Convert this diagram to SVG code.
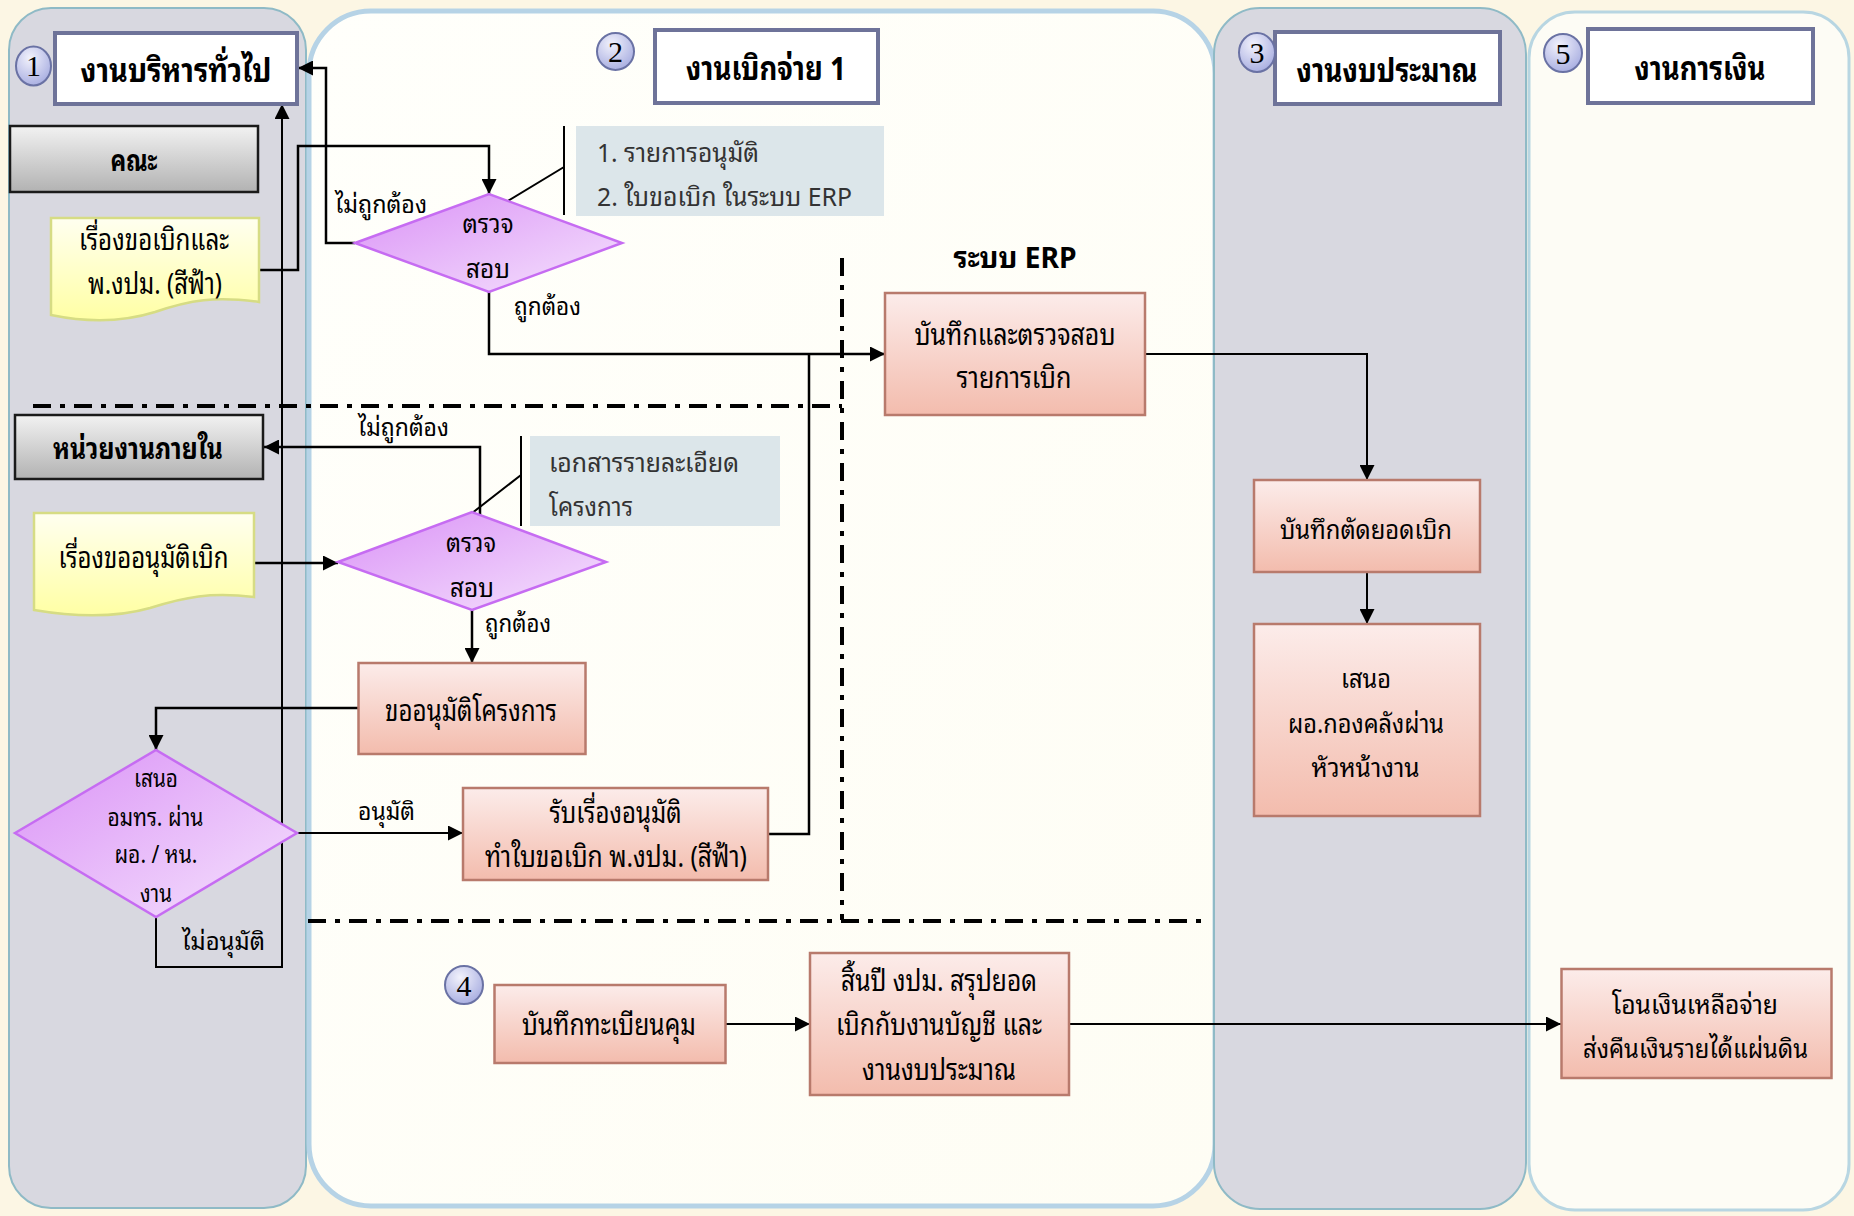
<svg xmlns="http://www.w3.org/2000/svg" width="1854" height="1216" viewBox="0 0 1854 1216">
  <defs>
    <style>
      .t { font-family: "Noto Sans Thai Looped", "Noto Sans Thai", "Noto Sans", "DejaVu Sans", sans-serif; fill: #000; }
      .hd { font-size: 33px; font-weight: bold; text-anchor: middle; }
      .nd { font-size: 29px; text-anchor: middle; }
      .sm { font-size: 25px; text-anchor: middle; }
      .lb { font-size: 25px; }
      .nt { font-size: 26px; fill: #333; }
      .num { font-family: "Liberation Serif", "Times New Roman", serif; font-size: 30px; text-anchor: middle; fill: #000; }
      .lane-gray { fill: #d8d8e0; stroke: #8fbac6; stroke-width: 2; }
      .hdr { fill: #fff; stroke: #6e7399; stroke-width: 4; }
      .badge { fill: url(#gNum); stroke: #6a72a4; stroke-width: 2; }
      .gbox { fill: url(#gGray); stroke: #1a1a1a; stroke-width: 2.5; }
      .doc { fill: url(#gYel); stroke: #d6dc84; stroke-width: 2.5; }
      .dia { fill: url(#gPur); stroke: #c66cf2; stroke-width: 2.5; }
      .pbox { fill: url(#gPink); stroke: #b87a6c; stroke-width: 2.5; }
      .note { fill: #dce6ea; }
      .sep { fill: none; stroke: #000; stroke-width: 4; stroke-dasharray: 18 9 5 9; }
      .cn { fill: none; stroke: #000; stroke-width: 2.5; }
      .cn2 { fill: none; stroke: #000; stroke-width: 2; }
      .co { fill: none; stroke: #000; stroke-width: 2; }
    </style>
    <linearGradient id="gGray" x1="0" y1="0" x2="0" y2="1">
      <stop offset="0" stop-color="#f2f2f2"/>
      <stop offset="1" stop-color="#b2b2b2"/>
    </linearGradient>
    <linearGradient id="gYel" x1="0" y1="0" x2="0" y2="1">
      <stop offset="0" stop-color="#fffff0"/>
      <stop offset="1" stop-color="#ffffa4"/>
    </linearGradient>
    <linearGradient id="gPur" x1="0" y1="0" x2="1" y2="1">
      <stop offset="0" stop-color="#da92f6"/>
      <stop offset="1" stop-color="#f5e2fd"/>
    </linearGradient>
    <linearGradient id="gPink" x1="0" y1="0" x2="0" y2="1">
      <stop offset="0" stop-color="#fcecea"/>
      <stop offset="1" stop-color="#f3bcad"/>
    </linearGradient>
    <linearGradient id="gLane2" x1="0" y1="0" x2="1" y2="1">
      <stop offset="0" stop-color="#fffffb"/>
      <stop offset="1" stop-color="#fefdf4"/>
    </linearGradient>
    <radialGradient id="gNum" cx="0.4" cy="0.3" r="0.75">
      <stop offset="0" stop-color="#f2f2fc"/>
      <stop offset="1" stop-color="#a6ace0"/>
    </radialGradient>
    <marker id="ah" viewBox="0 0 10 10" refX="10" refY="5" markerWidth="15" markerHeight="15" markerUnits="userSpaceOnUse" orient="auto">
      <path d="M0,0 L10,5 L0,10 z" fill="#000"/>
    </marker>
  </defs>

  <!-- page background -->
  <rect x="0" y="0" width="1854" height="1216" fill="#fcf6e4"/>

  <!-- swimlanes -->
  <g id="lanes">
    <rect id="lane-1" class="lane-gray" x="9" y="8" width="297" height="1200" rx="42"/>
    <rect id="lane-2" x="309" y="11" width="906" height="1195" rx="62" fill="url(#gLane2)" stroke="#b6d3e6" stroke-width="5"/>
    <rect id="lane-3" class="lane-gray" x="1214" y="8" width="312" height="1201" rx="46"/>
    <rect id="lane-5" x="1529" y="12" width="320" height="1198" rx="46" fill="#fdfcf5" stroke="#b8d6e2" stroke-width="3"/>
  </g>

  <!-- section separators -->
  <g id="separators">
    <path class="sep" d="M33,406 H842"/>
    <path class="sep" d="M842,258 V920"/>
    <path class="sep" d="M308,921 H1205"/>
  </g>

  <!-- connectors -->
  <g id="connectors">
    <path class="cn" d="M259,270 H298 V146 H489 V194" marker-end="url(#ah)"/>
    <path class="cn" d="M355,243 H326 V68 H298" marker-end="url(#ah)"/>
    <path class="cn" d="M489,292 V354 H885" marker-end="url(#ah)"/>
    <path class="cn" d="M768,834 H809 V354"/>
    <path class="cn2" d="M1145,354 H1367 V480" marker-end="url(#ah)"/>
    <path class="cn2" d="M1367,572 V624" marker-end="url(#ah)"/>
    <path class="cn" d="M254,563 H338" marker-end="url(#ah)"/>
    <path class="cn" d="M480,515 V447 H264" marker-end="url(#ah)"/>
    <path class="cn" d="M472,610 V663" marker-end="url(#ah)"/>
    <path class="cn" d="M358,708 H156 V750" marker-end="url(#ah)"/>
    <path class="cn2" d="M297,833 H463" marker-end="url(#ah)"/>
    <path class="cn2" d="M156,917 V967 H282 V104" marker-end="url(#ah)"/>
    <path class="cn2" d="M725,1024 H810" marker-end="url(#ah)"/>
    <path class="cn2" d="M1069,1024 H1561" marker-end="url(#ah)"/>
    <!-- callout leaders -->
    <path class="co" d="M564,126 V215 M564,167 L498,207"/>
    <path class="co" d="M521,436 V526 M521,475 L467,517"/>
    <!-- connector labels -->
    <text class="t lb" x="335" y="213" textLength="92" lengthAdjust="spacingAndGlyphs">ไม่ถูกต้อง</text>
    <text class="t lb" x="514" y="315" textLength="67" lengthAdjust="spacingAndGlyphs">ถูกต้อง</text>
    <text class="t lb" x="358" y="436" textLength="91" lengthAdjust="spacingAndGlyphs">ไม่ถูกต้อง</text>
    <text class="t lb" x="485" y="632" textLength="66" lengthAdjust="spacingAndGlyphs">ถูกต้อง</text>
    <text class="t lb" x="358" y="820" textLength="57" lengthAdjust="spacingAndGlyphs">อนุมัติ</text>
    <text class="t lb" x="182" y="950" textLength="83" lengthAdjust="spacingAndGlyphs">ไม่อนุมัติ</text>
  </g>

  <!-- lane headers -->
  <g id="header-1">
    <rect class="hdr" x="55" y="33" width="242" height="71"/>
    <text class="t hd" x="176" y="82" textLength="191" lengthAdjust="spacingAndGlyphs">งานบริหารทั่วไป</text>
    <ellipse class="badge" cx="33.5" cy="66" rx="17.5" ry="19.5"/>
    <text class="num" x="33.5" y="76">1</text>
  </g>
  <g id="header-2">
    <rect class="hdr" x="655" y="30" width="223" height="73"/>
    <text class="t hd" x="766" y="80" textLength="160" lengthAdjust="spacingAndGlyphs">งานเบิกจ่าย 1</text>
    <ellipse class="badge" cx="615.5" cy="51.5" rx="18.5" ry="18.5"/>
    <text class="num" x="615.5" y="62">2</text>
  </g>
  <g id="header-3">
    <rect class="hdr" x="1275" y="32" width="225" height="72"/>
    <text class="t hd" x="1387" y="82" textLength="181" lengthAdjust="spacingAndGlyphs">งานงบประมาณ</text>
    <ellipse class="badge" cx="1257" cy="52.5" rx="18" ry="19.5"/>
    <text class="num" x="1257" y="63">3</text>
  </g>
  <g id="header-5">
    <rect class="hdr" x="1588" y="29" width="225" height="74"/>
    <text class="t hd" x="1700" y="80" textLength="131" lengthAdjust="spacingAndGlyphs">งานการเงิน</text>
    <ellipse class="badge" cx="1563" cy="53" rx="19" ry="19"/>
    <text class="num" x="1563" y="63.5">5</text>
  </g>
  <g id="badge-4">
    <ellipse class="badge" cx="464" cy="985" rx="19" ry="19"/>
    <text class="num" x="464" y="995.5">4</text>
  </g>

  <!-- lane 1 nodes -->
  <g id="node-faculty">
    <rect class="gbox" x="10" y="126" width="248" height="66"/>
    <text class="t hd" style="font-size:30px" x="134" y="171" textLength="47" lengthAdjust="spacingAndGlyphs">คณะ</text>
  </g>
  <g id="node-request-doc">
    <path class="doc" d="M51,218 H259 V302 C215,296 190,300 155,312 C120,323 85,322 51,315 Z"/>
    <text class="t nd" x="154" y="250" textLength="150" lengthAdjust="spacingAndGlyphs">เรื่องขอเบิกและ</text>
    <text class="t nd" x="155" y="294" textLength="134" lengthAdjust="spacingAndGlyphs">พ.งปม. (สีฟ้า)</text>
  </g>
  <g id="node-internal-unit">
    <rect class="gbox" x="15" y="415" width="248" height="64"/>
    <text class="t hd" style="font-size:30px" x="138" y="459" textLength="170" lengthAdjust="spacingAndGlyphs">หน่วยงานภายใน</text>
  </g>
  <g id="node-approval-doc">
    <path class="doc" d="M34,513 H254 V597 C210,592 185,597 150,608 C115,618 75,617 34,610 Z"/>
    <text class="t nd" x="143.5" y="568" textLength="170" lengthAdjust="spacingAndGlyphs">เรื่องขออนุมัติเบิก</text>
  </g>
  <g id="node-propose">
    <path class="dia" d="M15,833 L156,750 L297,833 L156,917 Z"/>
    <text class="t sm" x="156" y="787" textLength="44" lengthAdjust="spacingAndGlyphs">เสนอ</text>
    <text class="t sm" x="155.5" y="826" textLength="96" lengthAdjust="spacingAndGlyphs">อมทร. ผ่าน</text>
    <text class="t sm" x="156" y="863" textLength="83" lengthAdjust="spacingAndGlyphs">ผอ. / หน.</text>
    <text class="t sm" x="156" y="902" textLength="32" lengthAdjust="spacingAndGlyphs">งาน</text>
  </g>

  <!-- lane 2 nodes -->
  <g id="node-check-1">
    <path class="dia" d="M355,243 L489,194 L622,243 L489,292 Z"/>
    <text class="t nd" style="font-size:27px" x="488" y="233" textLength="51" lengthAdjust="spacingAndGlyphs">ตรวจ</text>
    <text class="t nd" style="font-size:27px" x="488" y="278" textLength="44" lengthAdjust="spacingAndGlyphs">สอบ</text>
  </g>
  <g id="note-1">
    <rect class="note" x="576" y="126" width="308" height="90"/>
    <text class="t nt" x="597" y="162" textLength="162" lengthAdjust="spacingAndGlyphs">1. รายการอนุมัติ</text>
    <text class="t nt" x="597" y="206" textLength="255" lengthAdjust="spacingAndGlyphs">2. ใบขอเบิก ในระบบ ERP</text>
  </g>
  <g id="node-check-2">
    <path class="dia" d="M338,562 L472,512 L606,562 L472,610 Z"/>
    <text class="t nd" style="font-size:27px" x="471" y="552" textLength="50" lengthAdjust="spacingAndGlyphs">ตรวจ</text>
    <text class="t nd" style="font-size:27px" x="472" y="597" textLength="44" lengthAdjust="spacingAndGlyphs">สอบ</text>
  </g>
  <g id="note-2">
    <rect class="note" x="530" y="436" width="250" height="90"/>
    <text class="t nt" x="549" y="472" textLength="190" lengthAdjust="spacingAndGlyphs">เอกสารรายละเอียด</text>
    <text class="t nt" x="549" y="516" textLength="84" lengthAdjust="spacingAndGlyphs">โครงการ</text>
  </g>
  <g id="node-project-approval">
    <rect class="pbox" x="358.5" y="663" width="227" height="91"/>
    <text class="t nd" x="471" y="721" textLength="172" lengthAdjust="spacingAndGlyphs">ขออนุมัติโครงการ</text>
  </g>
  <g id="node-receive">
    <rect class="pbox" x="463" y="788" width="305" height="92"/>
    <text class="t nd" x="615.5" y="823" textLength="132" lengthAdjust="spacingAndGlyphs">รับเรื่องอนุมัติ</text>
    <text class="t nd" x="616" y="867" textLength="262" lengthAdjust="spacingAndGlyphs">ทำใบขอเบิก พ.งปม. (สีฟ้า)</text>
  </g>
  <g id="node-erp">
    <text class="t hd" style="font-size:29px" x="1015" y="268" textLength="123" lengthAdjust="spacingAndGlyphs">ระบบ ERP</text>
    <rect class="pbox" x="885" y="293" width="260" height="122"/>
    <text class="t nd" x="1015" y="345" textLength="201" lengthAdjust="spacingAndGlyphs">บันทึกและตรวจสอบ</text>
    <text class="t nd" x="1014" y="388" textLength="115" lengthAdjust="spacingAndGlyphs">รายการเบิก</text>
  </g>
  <g id="node-register">
    <rect class="pbox" x="494.5" y="985" width="231" height="78"/>
    <text class="t nd" x="609" y="1035" textLength="174" lengthAdjust="spacingAndGlyphs">บันทึกทะเบียนคุม</text>
  </g>
  <g id="node-year-end">
    <rect class="pbox" x="810" y="953" width="259" height="142"/>
    <text class="t nd" x="939" y="991" textLength="196" lengthAdjust="spacingAndGlyphs">สิ้นปี งปม. สรุปยอด</text>
    <text class="t nd" x="939" y="1035" textLength="206" lengthAdjust="spacingAndGlyphs">เบิกกับงานบัญชี และ</text>
    <text class="t nd" x="939" y="1080" textLength="154" lengthAdjust="spacingAndGlyphs">งานงบประมาณ</text>
  </g>

  <!-- lane 3 nodes -->
  <g id="node-deduct">
    <rect class="pbox" x="1254" y="480" width="226" height="92"/>
    <text class="t nd" style="font-size:27px" x="1366" y="539" textLength="172" lengthAdjust="spacingAndGlyphs">บันทึกตัดยอดเบิก</text>
  </g>
  <g id="node-propose-director">
    <rect class="pbox" x="1254" y="624" width="226" height="192"/>
    <text class="t nd" style="font-size:27px" x="1366" y="688" textLength="50" lengthAdjust="spacingAndGlyphs">เสนอ</text>
    <text class="t nd" style="font-size:27px" x="1366" y="733" textLength="156" lengthAdjust="spacingAndGlyphs">ผอ.กองคลังผ่าน</text>
    <text class="t nd" style="font-size:27px" x="1365.5" y="777" textLength="108" lengthAdjust="spacingAndGlyphs">หัวหน้างาน</text>
  </g>

  <!-- lane 5 nodes -->
  <g id="node-transfer">
    <rect class="pbox" x="1561.5" y="969" width="270" height="109"/>
    <text class="t nd" style="font-size:27px" x="1695" y="1014" textLength="166" lengthAdjust="spacingAndGlyphs">โอนเงินเหลือจ่าย</text>
    <text class="t nd" style="font-size:27px" x="1695.5" y="1058" textLength="225" lengthAdjust="spacingAndGlyphs">ส่งคืนเงินรายได้แผ่นดิน</text>
  </g>
</svg>
